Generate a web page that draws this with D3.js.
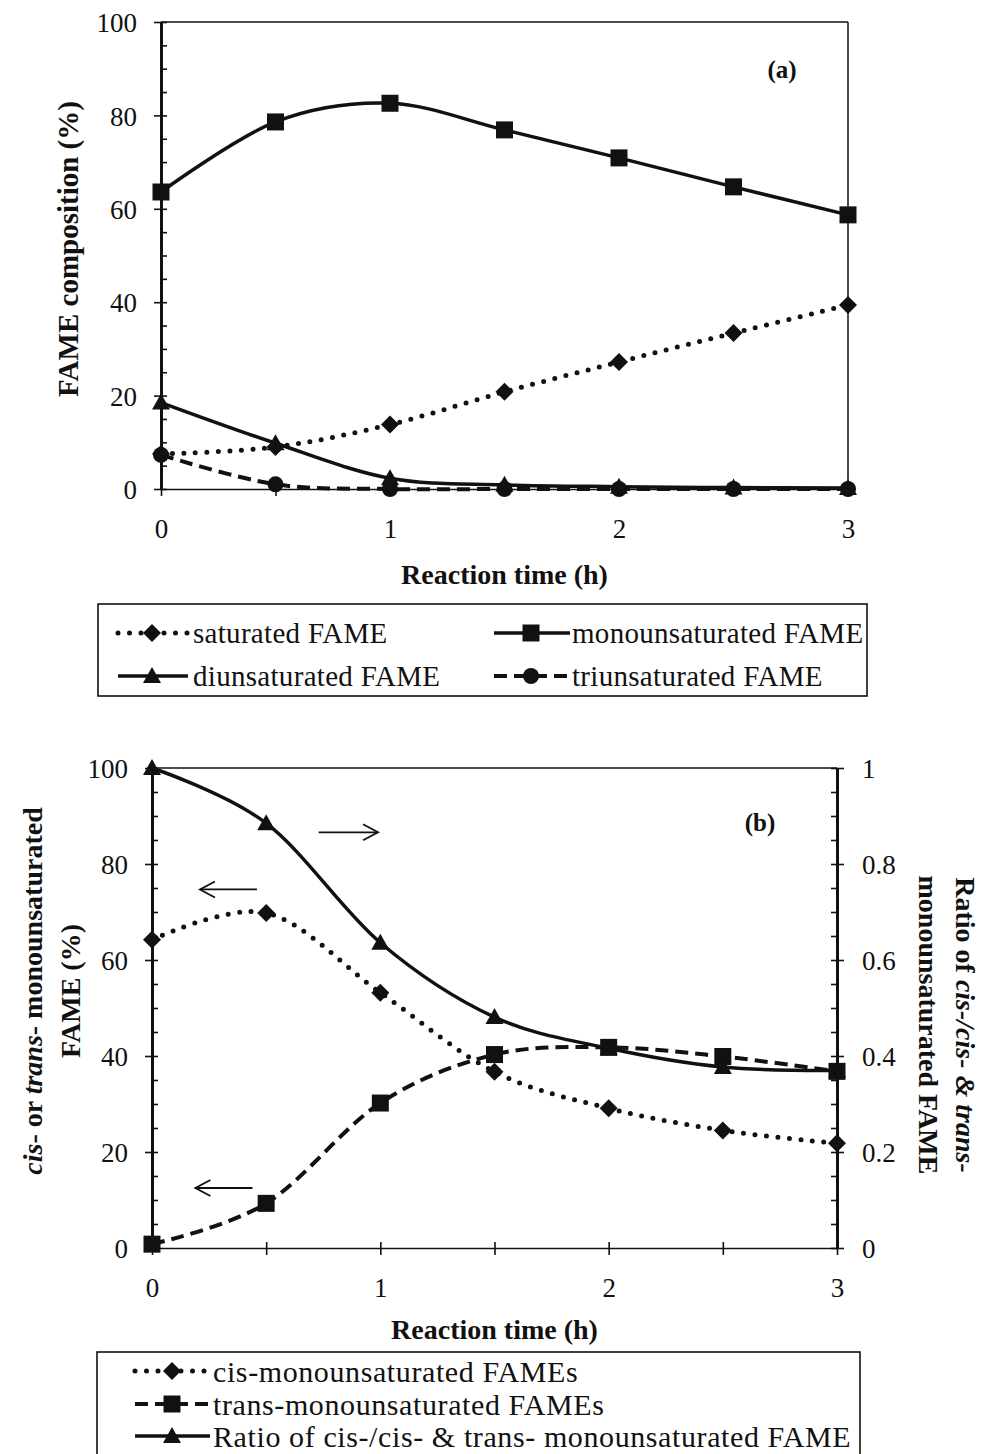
<!DOCTYPE html>
<html><head><meta charset="utf-8">
<script src="https://cdn.jsdelivr.net/npm/d3@7"></script>
<style>
body{margin:0;background:#fff}
svg{display:block}
text{font-family:"Liberation Serif","Times New Roman",serif;fill:#111}
</style>
</head><body>
<svg id="c" width="982" height="1454"></svg>
<script>
// ---------- data ----------
const timeH = [0, 0.5, 1, 1.5, 2, 2.5, 3];
// panel (a) FAME composition (%)
const saturated       = [7.5, 9.0, 13.8, 20.8, 27.2, 33.4, 39.4];
const monounsaturated = [63.6, 78.6, 82.6, 76.9, 70.9, 64.7, 58.7];
const diunsaturated   = [18.5, 9.8, 2.3, 0.9, 0.5, 0.3, 0.2];
const triunsaturated  = [7.3, 1.0, 0, 0, 0, 0, 0];
// panel (b)
const cisMono   = [64.2, 69.8, 53.2, 36.7, 29.1, 24.5, 21.8];   // % (left axis)
const transMono = [0.8, 9.3, 30.2, 40.3, 41.8, 39.9, 36.8];     // % (left axis)
const cisRatio  = [1.0, 0.885, 0.636, 0.481, 0.416, 0.377, 0.37]; // ratio (right axis)
// ticks
const xTickValues = [0, 0.5, 1, 1.5, 2, 2.5, 3];
const xTickLabels = ["0", "", "1", "", "2", "", "3"];
const yTickValues = [0, 20, 40, 60, 80, 100];
const yTickLabels = ["0", "20", "40", "60", "80", "100"];
const yMinorStep = 5;
const rTickValues = [0, 0.2, 0.4, 0.6, 0.8, 1];
const rTickLabels = ["0", "0.2", "0.4", "0.6", "0.8", "1"];
const rMinorStep = 0.05;
// annotation arrows in data units (panel b, left axis units)
const arrows = [
  {x1: 0.73, x2: 0.99, y: 86.6},
  {x1: 0.46, x2: 0.21, y: 74.7},
  {x1: 0.44, x2: 0.19, y: 12.5}
];
const legendA = [
  {label: "saturated FAME", style: "dot", marker: "diamond"},
  {label: "monounsaturated FAME", style: "solid", marker: "square"},
  {label: "diunsaturated FAME", style: "solid", marker: "triangle"},
  {label: "triunsaturated FAME", style: "dash", marker: "circle"}
];
const legendB = [
  {label: "cis-monounsaturated FAMEs", style: "dot", marker: "diamond"},
  {label: "trans-monounsaturated FAMEs", style: "dash", marker: "square"},
  {label: "Ratio of cis-/cis- & trans- monounsaturated FAME", style: "solid", marker: "triangle"}
];

// ---------- helpers ----------
const svg = d3.select("#c");
const INK = "#111";
const TICK_FONT = 27;
function markerPath(type) {
  if (type === "diamond") { const r = 9; return `M0,${-r}L${r},0L0,${r}L${-r},0Z`; }
  if (type === "square") { const h = 8.5; return `M${-h},${-h}H${h}V${h}H${-h}Z`; }
  if (type === "triangle") return "M0,-9L9,7L-9,7Z";
  return d3.symbol(d3.symbolCircle, Math.PI * 8 * 8)();
}
function styleLine(sel, style) {
  sel.attr("fill", "none").attr("stroke", INK);
  if (style === "dot") sel.attr("stroke-width", 5).attr("stroke-linecap", "round").attr("stroke-dasharray", "0 11.5");
  else if (style === "dash") sel.attr("stroke-width", 4).attr("stroke-dasharray", "13 7");
  else sel.attr("stroke-width", 3.5).attr("stroke-linejoin", "round");
  return sel;
}
function drawSeries(g, xs, ys, x, y, style, marker) {
  const data = xs.map((d, i) => [d, ys[i]]);
  const line = d3.line().x(d => x(d[0])).y(d => y(d[1])).curve(d3.curveCardinal.tension(0));
  styleLine(g.append("path").attr("d", line(data)), style);
  g.selectAll(null).data(data).join("path")
    .attr("d", markerPath(marker))
    .attr("transform", d => `translate(${x(d[0])},${y(d[1])})`)
    .attr("fill", INK);
}
function fixText(g, size) {
  g.attr("font-family", null).attr("font-size", null);
  g.selectAll("text").attr("font-size", size).attr("fill", INK);
  g.selectAll("line").attr("stroke", INK).attr("stroke-width", 1.6);
}
function leftAxis(yS, xPos, minorStep) {
  const minors = d3.range(0, 100 + 1e-9, minorStep);
  const gIn = svg.append("g").attr("transform", `translate(${xPos},0)`)
    .call(d3.axisLeft(yS).tickValues(minors).tickSize(-6).tickFormat(""));
  gIn.select(".domain").remove(); fixText(gIn, TICK_FONT);
  const g = svg.append("g").attr("transform", `translate(${xPos},0)`)
    .call(d3.axisLeft(yS).tickValues(yTickValues).tickSize(7).tickSizeOuter(0).tickPadding(17)
      .tickFormat((d, i) => yTickLabels[i]));
  fixText(g, TICK_FONT);
  g.select(".domain").attr("stroke", INK).attr("stroke-width", 3);
  g.selectAll("text").attr("dy", "0.36em");
}
function bottomAxis(xS, yPos, pad) {
  const gIn = svg.append("g").attr("transform", `translate(0,${yPos})`)
    .call(d3.axisBottom(xS).tickValues(xTickValues).tickSize(-6).tickFormat(""));
  gIn.select(".domain").remove(); fixText(gIn, TICK_FONT);
  const g = svg.append("g").attr("transform", `translate(0,${yPos})`)
    .call(d3.axisBottom(xS).tickValues(xTickValues).tickSize(7).tickSizeOuter(0).tickPadding(pad)
      .tickFormat((d, i) => xTickLabels[i]));
  fixText(g, TICK_FONT);
  g.select(".domain").attr("stroke", INK).attr("stroke-width", 1.6);
}
function legendSample(g, cx, x0, x1, y, style, marker) {
  styleLine(g.append("line").attr("x1", x0).attr("x2", x1).attr("y1", y).attr("y2", y), style);
  g.append("path").attr("d", markerPath(marker)).attr("transform", `translate(${cx},${y})`).attr("fill", INK);
}

// ================= Panel (a) =================
const xA = d3.scaleLinear().domain([0, 3]).range([161, 848]);
const yA = d3.scaleLinear().domain([0, 100]).range([489, 22]);
svg.append("line").attr("x1", xA(0)).attr("x2", xA(3)).attr("y1", yA(100)).attr("y2", yA(100)).attr("stroke", INK).attr("stroke-width", 1.5);
svg.append("line").attr("x1", xA(3)).attr("x2", xA(3)).attr("y1", yA(100)).attr("y2", yA(0)).attr("stroke", INK).attr("stroke-width", 1.5);
bottomAxis(xA, yA(0), 23);
leftAxis(yA, xA(0), yMinorStep);
const gA = svg.append("g");
drawSeries(gA, timeH, triunsaturated, xA, yA, "dash", "circle");
drawSeries(gA, timeH, saturated, xA, yA, "dot", "diamond");
drawSeries(gA, timeH, diunsaturated, xA, yA, "solid", "triangle");
drawSeries(gA, timeH, monounsaturated, xA, yA, "solid", "square");
svg.append("text").attr("x", 782).attr("y", 78).attr("text-anchor", "middle")
  .attr("font-size", 25).attr("font-weight", "bold").text("(a)");
svg.append("text").attr("transform", `translate(68,249) rotate(-90)`).attr("dy", "0.35em")
  .attr("text-anchor", "middle").attr("font-size", 29).attr("font-weight", "bold").text("FAME composition (%)");
svg.append("text").attr("x", (xA(0) + xA(3)) / 2).attr("y", 574).attr("dy", "0.35em")
  .attr("text-anchor", "middle").attr("font-size", 28).attr("font-weight", "bold").text("Reaction time (h)");
// legend (a)
const lgA = svg.append("g");
lgA.append("rect").attr("x", 98).attr("y", 604).attr("width", 769).attr("height", 92)
  .attr("fill", "none").attr("stroke", INK).attr("stroke-width", 1.6);
const colA = [{x0: 118, cx: 152, x1: 188, tx: 193}, {x0: 494, cx: 531, x1: 570, tx: 572}];
const rowA = [633, 676];
legendA.forEach((d, i) => {
  const c = colA[i % 2], y = rowA[Math.floor(i / 2)];
  legendSample(lgA, c.cx, c.x0, c.x1, y, d.style, d.marker);
  lgA.append("text").attr("x", c.tx).attr("y", y).attr("dy", "0.35em").attr("font-size", 29)
    .attr("letter-spacing", 0.3).text(d.label);
});

// ================= Panel (b) =================
const xB = d3.scaleLinear().domain([0, 3]).range([152, 837]);
const yB = d3.scaleLinear().domain([0, 100]).range([1248, 768]);
const rB = d3.scaleLinear().domain([0, 1]).range([1248, 768]);
svg.append("line").attr("x1", xB(0)).attr("x2", xB(3)).attr("y1", yB(100)).attr("y2", yB(100)).attr("stroke", INK).attr("stroke-width", 1.5);
bottomAxis(xB, yB(0), 23);
leftAxis(yB, xB(0), yMinorStep);
// right axis
{
  const minors = d3.range(0, 1 + 1e-9, rMinorStep);
  const gIn = svg.append("g").attr("transform", `translate(${xB(3)},0)`)
    .call(d3.axisRight(rB).tickValues(minors).tickSize(-6).tickFormat(""));
  gIn.select(".domain").remove(); fixText(gIn, TICK_FONT);
  const g = svg.append("g").attr("transform", `translate(${xB(3)},0)`)
    .call(d3.axisRight(rB).tickValues(rTickValues).tickSize(7).tickSizeOuter(0).tickPadding(18)
      .tickFormat((d, i) => rTickLabels[i]));
  fixText(g, TICK_FONT);
  g.select(".domain").attr("stroke", INK).attr("stroke-width", 3);
  g.selectAll("text").attr("dy", "0.36em");
}
const gB = svg.append("g");
drawSeries(gB, timeH, cisMono, xB, yB, "dot", "diamond");
drawSeries(gB, timeH, transMono, xB, yB, "dash", "square");
drawSeries(gB, timeH, cisRatio, xB, rB, "solid", "triangle");
// arrows
arrows.forEach(a => {
  const x1 = xB(a.x1), x2 = xB(a.x2), y = yB(a.y), dir = Math.sign(x2 - x1);
  svg.append("line").attr("x1", x1).attr("x2", x2).attr("y1", y).attr("y2", y).attr("stroke", INK).attr("stroke-width", 1.8);
  svg.append("path").attr("d", `M${x2 - dir * 15},${y - 8}L${x2},${y}L${x2 - dir * 15},${y + 8}`)
    .attr("fill", "none").attr("stroke", INK).attr("stroke-width", 1.8);
});
svg.append("text").attr("x", 760).attr("y", 831).attr("text-anchor", "middle")
  .attr("font-size", 25).attr("font-weight", "bold").text("(b)");
// left title (two lines)
{
  const t = svg.append("text").attr("transform", "translate(32,991) rotate(-90)").attr("dy", "0.35em")
    .attr("text-anchor", "middle").attr("font-size", 28).attr("font-weight", "bold");
  t.append("tspan").attr("font-style", "italic").text("cis");
  t.append("tspan").text("- or ");
  t.append("tspan").attr("font-style", "italic").text("trans");
  t.append("tspan").text("- monounsaturated");
  svg.append("text").attr("transform", "translate(70,991) rotate(-90)").attr("dy", "0.35em")
    .attr("text-anchor", "middle").attr("font-size", 28).attr("font-weight", "bold").text("FAME (%)");
}
// right title (two lines)
{
  const t = svg.append("text").attr("transform", "translate(966,1025) rotate(90)").attr("dy", "0.35em")
    .attr("text-anchor", "middle").attr("font-size", 28).attr("font-weight", "bold");
  t.append("tspan").text("Ratio of ");
  t.append("tspan").attr("font-style", "italic").text("cis-/cis- & trans-");
  svg.append("text").attr("transform", "translate(929,1025) rotate(90)").attr("dy", "0.35em")
    .attr("text-anchor", "middle").attr("font-size", 28).attr("font-weight", "bold").text("monounsaturated FAME");
}
svg.append("text").attr("x", (xB(0) + xB(3)) / 2).attr("y", 1329).attr("dy", "0.35em")
  .attr("text-anchor", "middle").attr("font-size", 28).attr("font-weight", "bold").text("Reaction time (h)");
// legend (b)
const lgB = svg.append("g");
lgB.append("rect").attr("x", 97).attr("y", 1352).attr("width", 763).attr("height", 130)
  .attr("fill", "none").attr("stroke", INK).attr("stroke-width", 1.6);
const rowB = [1371, 1404, 1436];
legendB.forEach((d, i) => {
  const y = rowB[i];
  legendSample(lgB, 172, 135, 210, y, d.style, d.marker);
  lgB.append("text").attr("x", 213).attr("y", y).attr("dy", "0.35em").attr("font-size", 30)
    .attr("letter-spacing", 0.6).text(d.label);
});
</script>
</body></html>
